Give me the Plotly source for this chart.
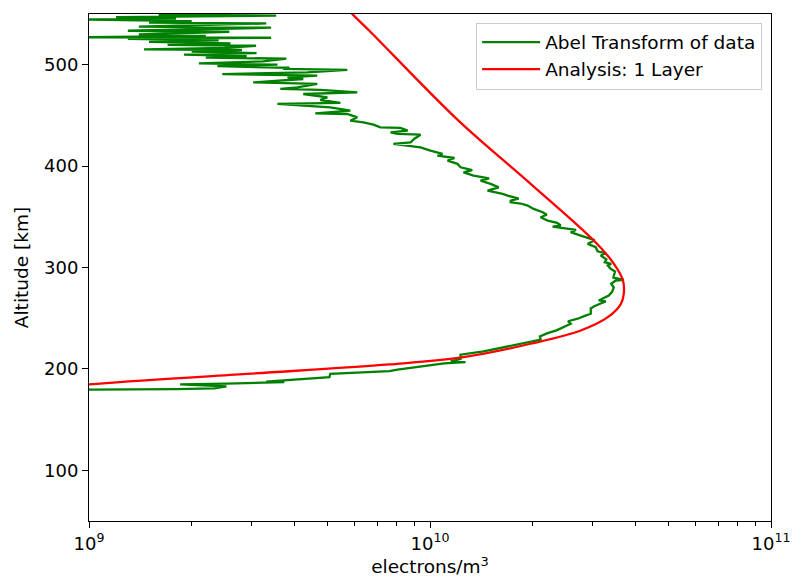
import plotly.graph_objects as go

# Abel transform of data: altitude [km], electron density [1e9 electrons/m^3]
abel_alt = [179.0, 179.5, 180.0, 180.8, 182.8, 184.0, 184.7, 185.4, 187.0, 187.5,
            191.9, 195.0, 197.8, 199.2, 203.4, 205.5, 206.7, 207.5, 210.0, 214.0,
            217.2, 222.5, 226.4, 228.8, 232.0, 235.3, 238.0, 241.2, 244.5, 247.0,
            249.5, 252.0, 254.4, 259.6, 261.6, 264.0, 266.5, 267.5, 270.0, 272.4,
            276.0, 280.3, 284.0, 287.2, 287.9, 290.0, 292.1, 296.0, 299.0, 302.0,
            303.5, 305.2, 308.0, 311.8, 314.0, 316.0, 320.0, 323.3, 324.9, 327.0,
            331.5, 334.8, 337.0, 340.4, 341.4, 344.0, 346.3, 349.6, 352.0, 354.5,
            357.8, 361.1, 363.1, 364.3, 366.0, 368.0, 370.9, 372.6, 375.9, 379.0,
            382.5, 385.7, 388.0, 390.6, 393.9, 396.0, 398.8, 402.2, 405.4, 408.0,
            410.3, 412.0, 415.3, 418.5, 421.9, 423.5, 427.0, 431.0, 431.7, 433.3,
            435.0, 437.6, 438.2, 440.9, 443.2,
            444.8, 448.1, 451.4, 452.0, 454.7, 457.9, 461.3, 462.3, 465.2, 467.8,
            471.1, 472.7, 475.1, 476.1, 477.6, 481.0, 482.6, 485.9, 487.5, 489.2,
            490.8, 492.4, 494.8, 495.8, 497.0, 498.5, 499.5, 500.0, 501.3, 503.3,
            505.9, 507.0, 508.5, 510.0, 511.5, 513.0, 514.5, 515.1, 516.5, 518.7,
            519.5, 521.0, 522.5, 524.0, 525.5, 526.6, 527.0, 528.5, 530.0, 531.5,
            532.5, 533.5, 535.0, 536.5, 537.5, 539.0, 540.7, 541.5, 543.0, 544.6,
            545.5, 547.0, 548.3, 549.5, 551.0, 553.0]
abel_ne = [0.80, 1.00, 1.80, 2.33, 2.53, 1.90, 1.85, 2.53, 3.74, 3.31,
           5.07, 5.10, 7.60, 8.03, 10.03, 11.0, 12.71, 11.5, 12.3, 12.29,
           14.36, 17.24, 19.73, 21.11, 21.0, 22.13, 23.5, 24.67, 25.86, 25.4,
           27.11, 28.3, 29.61, 29.61, 30.22, 31.4, 32.77, 31.26, 32.2, 33.44,
           34.2, 34.59, 34.0, 35.07, 37.00, 34.5, 34.59, 34.9, 33.8, 33.22,
           34.0, 32.55, 32.9, 31.68, 32.8, 31.0, 30.63, 29.01, 29.61, 30.4,
           27.67, 25.86, 26.8, 22.89, 24.17, 23.6, 22.13, 21.11, 22.0, 21.40,
           20.14, 19.34, 18.45, 17.24, 17.24, 18.2, 16.89, 16.33, 14.75, 15.9,
           15.06, 14.07, 14.9, 13.42, 12.54, 13.3, 12.29, 12.04, 11.26, 11.8,
           10.52, 10.88, 10.03, 9.38, 7.81, 8.77, 9.0, 9.38, 8.03, 7.66,
           8.6, 8.19, 7.15, 6.83, 6.38,
           5.84, 6.12, 5.72, 4.61, 5.84, 5.10, 3.57, 5.46, 4.77, 5.00,
           4.25, 6.12, 4.77, 3.64, 4.08, 4.67, 3.03, 4.25, 3.82, 4.67,
           2.46, 4.37, 5.72, 3.71, 3.87, 2.38, 3.11, 3.57, 2.10, 3.24,
           3.79, 2.20, 2.90, 1.90, 3.10, 2.00, 2.81, 1.45, 2.50, 3.09,
           1.70, 2.60, 1.50, 2.40, 1.30, 3.42, 0.90, 2.20, 1.40, 2.30,
           2.58, 1.30, 2.20, 3.42, 1.40, 2.10, 3.31, 1.50, 2.00, 0.90,
           1.80, 1.20, 3.54, 1.60, 2.20, 1.50]

# Analysis: 1 layer model
model_alt = [175.0, 184.7, 194.6, 204.4, 211.6, 224.8, 237.9, 251.0, 264.2, 274.1,
             287.2, 303.9, 326.6, 382.5, 444.8, 533.5, 550.0, 560.0]
model_ne = [0.55, 1.00, 2.76, 7.60, 12.54, 19.73, 27.67, 33.22, 36.3, 37.0,
            36.8, 34.59, 30.22, 19.73, 12.12, 6.64, 5.92, 5.60]

x_tickvals = [1e9, 1e10, 1e11]
x_ticktext = ["10<sup>9</sup>", "10<sup>10</sup>", "10<sup>11</sup>"]
x_minor = [m * 1e9 for m in range(2, 10)] + [m * 1e10 for m in range(2, 10)]
y_tickvals = [100, 200, 300, 400, 500]

FONT = "DejaVu Sans"
TICK_SIZE = 18
LABEL_SIZE = 18.5

fig = go.Figure()
fig.add_trace(go.Scatter(
    x=[v * 1e9 for v in abel_ne], y=abel_alt, mode="lines",
    name="Abel Transform of data",
    line=dict(color="#008000", width=2.3),
))
fig.add_trace(go.Scatter(
    x=[v * 1e9 for v in model_ne], y=model_alt, mode="lines",
    name="Analysis: 1 Layer",
    line=dict(color="#ff0000", width=2.3, shape="spline", smoothing=1.0),
))

fig.update_layout(
    width=793, height=582,
    margin=dict(l=89, r=22, t=14, b=61),
    paper_bgcolor="white", plot_bgcolor="white",
    font=dict(family=FONT, size=LABEL_SIZE, color="black"),
    showlegend=True,
    legend=dict(
        x=0.987, xanchor="right", y=0.983, yanchor="top",
        bgcolor="rgba(255,255,255,0.8)", bordercolor="#cccccc", borderwidth=1,
        font=dict(family=FONT, size=LABEL_SIZE),
        tracegroupgap=0, itemwidth=58,
    ),
)
fig.update_xaxes(
    type="log", range=[9, 11], automargin=False,
    tickmode="array", tickvals=x_tickvals, ticktext=x_ticktext,
    ticks="outside", ticklen=6, tickwidth=1.1, tickcolor="black",
    showline=True, mirror=True, linecolor="black", linewidth=1.1,
    showgrid=False, zeroline=False,
    minor=dict(tickmode="array", tickvals=x_minor, ticks="outside",
               ticklen=3.5, tickwidth=0.8, tickcolor="black", showgrid=False),
    title=dict(text="electrons/m<sup>3</sup>", font=dict(family=FONT, size=LABEL_SIZE), standoff=4),
    tickfont=dict(family=FONT, size=TICK_SIZE),
)
fig.update_yaxes(
    range=[50, 550], automargin=False,
    tickmode="array", tickvals=y_tickvals,
    ticks="outside", ticklen=6, tickwidth=1.1, tickcolor="black",
    showline=True, mirror=True, linecolor="black", linewidth=1.1,
    showgrid=False, zeroline=False,
    title=dict(text="Altitude [km]", font=dict(family=FONT, size=LABEL_SIZE), standoff=10),
    tickfont=dict(family=FONT, size=TICK_SIZE),
)

fig.write_html("out.html")
